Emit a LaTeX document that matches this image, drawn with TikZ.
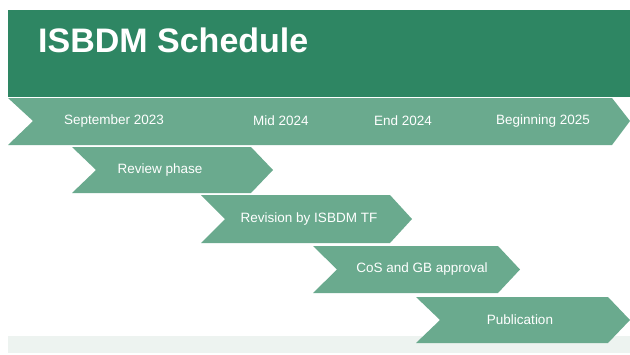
\documentclass[tikz,border=0pt]{standalone}
\usepackage{fontspec}
\setmainfont{Liberation Sans}
\usepackage{xcolor}
\usepackage{tikz}
\definecolor{headergreen}{HTML}{2E8663}
\definecolor{arrowgreen}{HTML}{6AAA8E}
\definecolor{bandgray}{HTML}{EDF3F0}

\begin{document}
\begin{tikzpicture}[x=1pt,y=-1pt,
    label text/.style={text=white,font=\fontsize{13.5}{16}\selectfont,inner sep=0pt}]
\useasboundingbox (0,0) rectangle (630,354);

% Header
\fill[headergreen] (8,10) rectangle (630,97);
\node[anchor=base west,text=white,inner sep=0pt,font=\fontsize{34}{40}\selectfont\bfseries] (title) at (38,52) {ISBDM Schedule};

% Light band at the bottom
\fill[bandgray] (8,336) rectangle (630,353);

% Timeline arrow
\fill[arrowgreen] (8,98) -- (612,98) -- (630,121) -- (612,145) -- (8,145) -- (33,121) -- cycle;
\foreach \xc/\name/\txt in {114/sep/September 2023, 281/mid/Mid 2024, 403/endy/End 2024, 543/begin/Beginning 2025}
{
    \node[label text] (\name) at (\xc,121) {\txt};
}

% Phases
\foreach \l/\r/\t/\b/\xc/\name/\txt in {72/273/147/193/160/review/Review phase,
    201/412/195/243/309/revision/Revision by ISBDM TF,
    313/520/246/293/422/approval/CoS and GB approval,
    416/630/297/343/520/publication/Publication}
{
    \pgfmathsetmacro{\ymid}{(\t+\b)/2}
    \fill[arrowgreen] (\l,\t) -- (\r-22,\t) -- (\r,\ymid) -- (\r-22,\b) -- (\l,\b) -- (\l+24,\ymid) -- cycle;
    \node[label text] (\name) at (\xc,\ymid) {\txt};
}
\end{tikzpicture}
\end{document}
